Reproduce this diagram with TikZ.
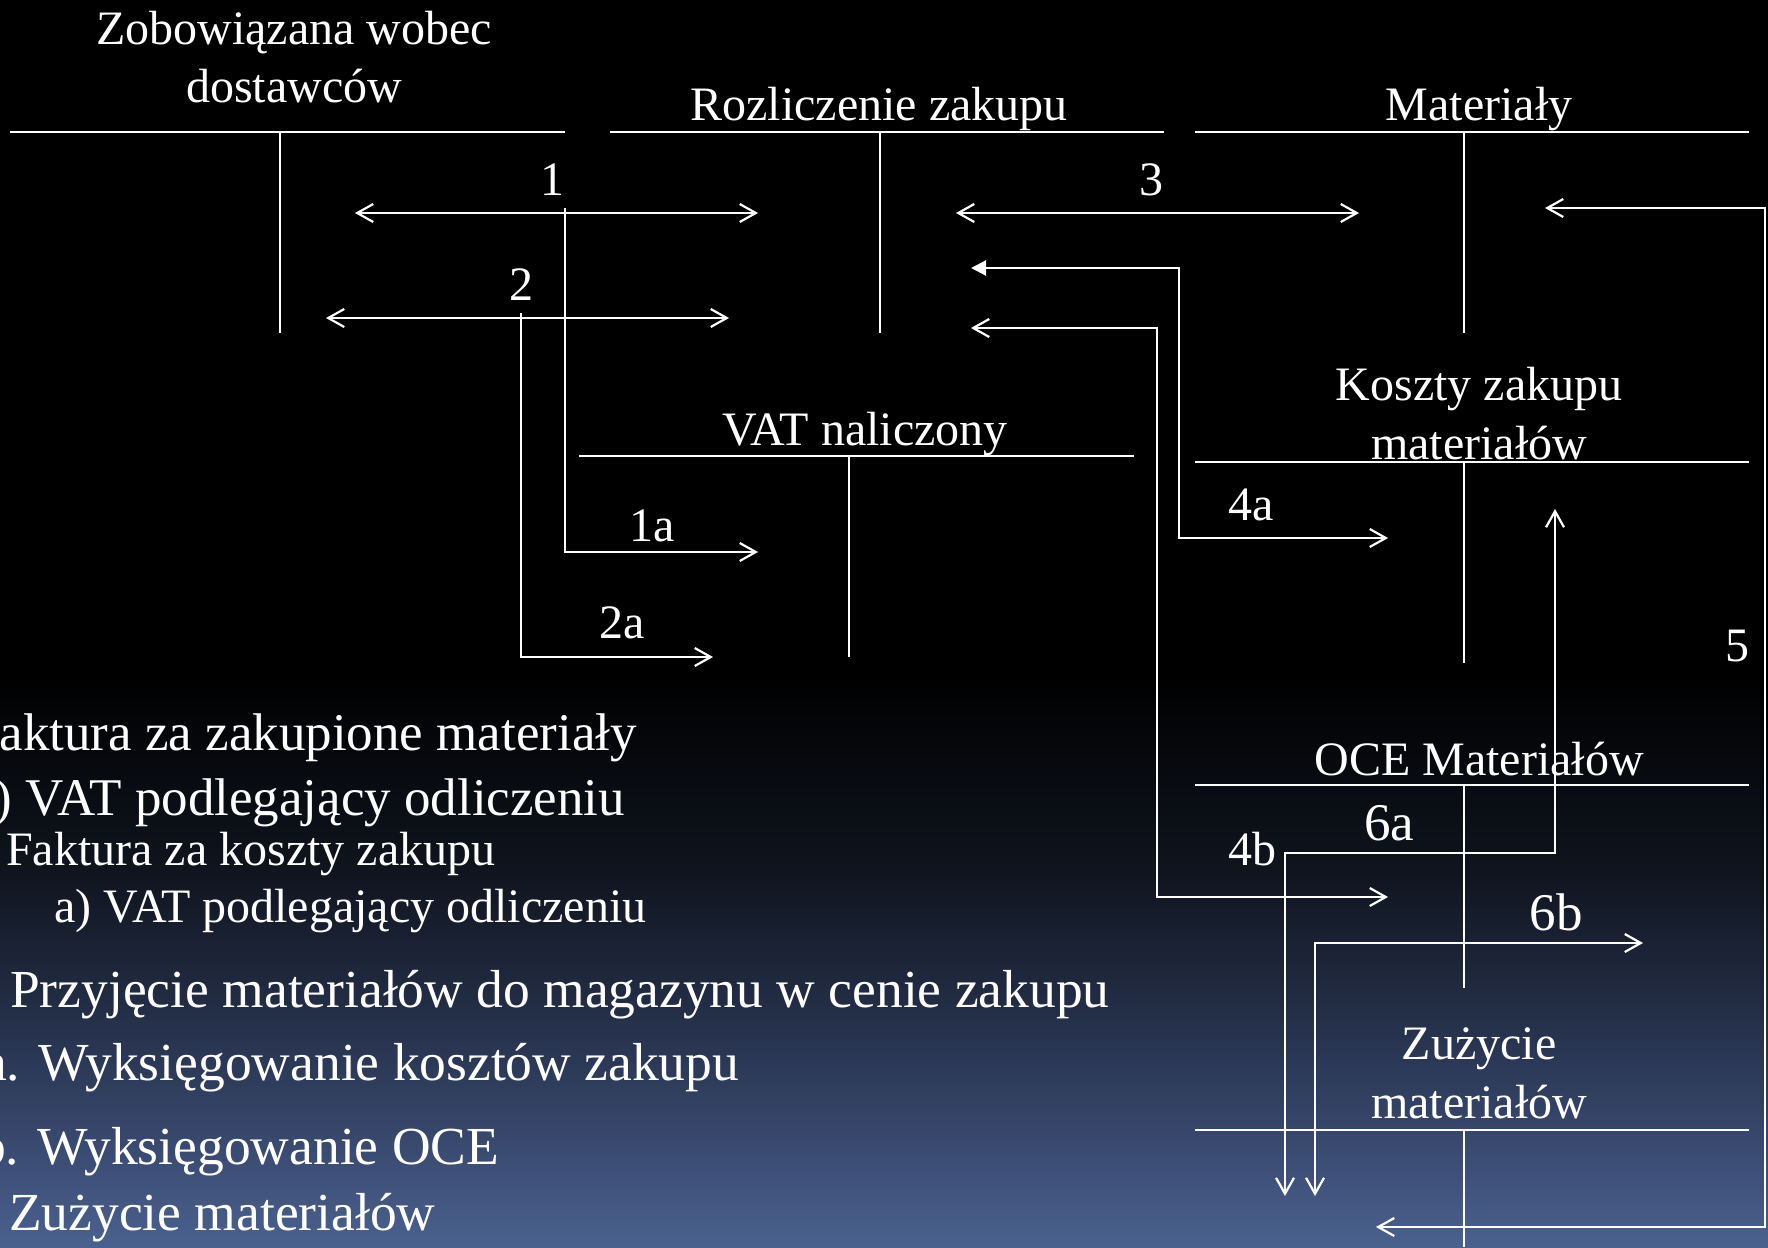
\documentclass[tikz,border=0pt]{standalone}
\usepackage{fontspec}
\setmainfont{Liberation Serif}
\usetikzlibrary{arrows.meta}

% slide background: black above, fading to slate blue at the foot
% (TikZ maps the 25bp--75bp band of a shading onto the filled path)
\pgfdeclareverticalshading{slidebg}{100bp}{rgb(0bp)=(0.29,0.38,0.56); rgb(25bp)=(0.29,0.38,0.56); rgb(30bp)=(0.21,0.27,0.41); rgb(35bp)=(0.13,0.17,0.26); rgb(40bp)=(0.06,0.08,0.12); rgb(48bp)=(0,0,0); rgb(100bp)=(0,0,0)}

\tikzset{
  acctitle/.style={text=white, anchor=base, inner sep=0pt, font=\fontsize{48}{58}\selectfont},
  flowlbl/.style={text=white, anchor=base, inner sep=0pt, font=\fontsize{48}{58}\selectfont},
  biglbl/.style={text=white, anchor=base, inner sep=0pt, font=\fontsize{53}{64}\selectfont},
  listtop/.style={text=white, anchor=base west, inner sep=0pt, font=\fontsize{53}{64}\selectfont},
  listbig/.style={text=white, anchor=base west, inner sep=0pt, font=\fontsize{53.5}{64}\selectfont},
  listsmall/.style={text=white, anchor=base west, inner sep=0pt, font=\fontsize{48}{58}\selectfont},
  tbar/.style={draw=white, line width=2.6pt},
  tstem/.style={draw=white, line width=2pt},
  barb/.tip={Straight Barb[length=16pt,width=18pt]},
  solidtip/.tip={Triangle[length=15pt,width=15pt]},
  flow/.style={draw=white, line width=2.2pt, -barb},
  twoway/.style={draw=white, line width=2.2pt, barb-barb},
}

\begin{document}
\begin{tikzpicture}[x=1pt,y=-1pt]
\useasboundingbox (0,0) rectangle (1768,1247);
\clip (0,0) rectangle (1768,1247);
\shade[shading=slidebg] (0,0) rectangle (1768,1247);

% ---- account titles ----
\node[acctitle] (zob1) at (294,45) {Zobowiązana wobec};
\node[acctitle] (zob2) at (294,102) {dostawców};
\node[acctitle] (roz) at (879,120) {Rozliczenie zakupu};
\node[acctitle] (mat) at (1479,120) {Materiały};
\node[acctitle] (vat) at (865,445) {VAT naliczony};
\node[acctitle] (ksz1) at (1479,400) {Koszty zakupu};
\node[acctitle] (ksz2) at (1479,459) {materiałów};
\node[acctitle] (oce) at (1479,775) {OCE Materiałów};
\node[acctitle] (zuz1) at (1479,1059) {Zużycie};
\node[acctitle] (zuz2) at (1479,1118) {materiałów};

% ---- T-accounts ----
\draw[tbar] (10,132) -- (565,132);   \draw[tstem] (280,132) -- (280,333);
\draw[tbar] (610,132) -- (1164,132); \draw[tstem] (880,132) -- (880,333);
\draw[tbar] (1195,132) -- (1749,132);\draw[tstem] (1464,132) -- (1464,333);
\draw[tbar] (579,456) -- (1134,456); \draw[tstem] (849,456) -- (849,657);
\draw[tbar] (1195,462) -- (1749,462);\draw[tstem] (1464,462) -- (1464,663);
\draw[tbar] (1195,785) -- (1749,785);\draw[tstem] (1464,785) -- (1464,988);
\draw[tbar] (1195,1130) -- (1749,1130);\draw[tstem] (1464,1130) -- (1464,1247);

% ---- connector end points ----
\coordinate (e1l) at (355,213);  \coordinate (e1r) at (758,213);
\coordinate (e1t) at (565,208);  \coordinate (e1b) at (565,552);
\coordinate (e1a) at (758,552);
\coordinate (e2l) at (326,318);  \coordinate (e2r) at (729,318);
\coordinate (e2t) at (521,313);  \coordinate (e2b) at (521,657);
\coordinate (e2a) at (713,657);
\coordinate (e3l) at (956,213);  \coordinate (e3r) at (1359,213);
\coordinate (e4at) at (971,268); \coordinate (e4ac) at (1179,268);
\coordinate (e4ad) at (1179,538);\coordinate (e4ae) at (1388,538);
\coordinate (e4bt) at (971,328); \coordinate (e4bc) at (1157,328);
\coordinate (e4bd) at (1157,897);\coordinate (e4be) at (1388,897);
\coordinate (e5t) at (1545,208); \coordinate (e5c) at (1765,208);
\coordinate (e5d) at (1765,1227);\coordinate (e5e) at (1376,1227);
\coordinate (e6at) at (1555,509);\coordinate (e6ac) at (1555,853);
\coordinate (e6ad) at (1285,853);\coordinate (e6ae) at (1285,1196);
\coordinate (e6bt) at (1643,943);\coordinate (e6bc) at (1315,943);
\coordinate (e6be) at (1315,1196);

% ---- flows ----
\draw[twoway] (e1l) -- (e1r);
\draw[flow] (e1t) -- (e1b) -- (e1a);
\draw[twoway] (e2l) -- (e2r);
\draw[flow] (e2t) -- (e2b) -- (e2a);
\draw[twoway] (e3l) -- (e3r);
\draw[draw=white, line width=2.2pt, solidtip-barb] (e4at) -- (e4ac) -- (e4ad) -- (e4ae);
\draw[twoway] (e4bt) -- (e4bc) -- (e4bd) -- (e4be);
\draw[twoway] (e5t) -- (e5c) -- (e5d) -- (e5e);
\draw[twoway] (e6at) -- (e6ac) -- (e6ad) -- (e6ae);
\draw[twoway] (e6bt) -- (e6bc) -- (e6be);

% ---- flow numbers ----
\node[flowlbl] (n1) at (552,195) {1};
\node[flowlbl] (n2) at (521,300) {2};
\node[flowlbl] (n3) at (1151,195) {3};
\node[flowlbl] (n1a) at (652,541) {1a};
\node[flowlbl] (n2a) at (622,638) {2a};
\node[flowlbl] (n4a) at (1251,520) {4a};
\node[flowlbl] (n4b) at (1252,865) {4b};
\node[flowlbl] (n5) at (1737,661) {5};
\node[biglbl] (n6a) at (1389,840) {6a};
\node[biglbl] (n6b) at (1556,930) {6b};

% ---- legend ----
\node[listtop] (l1) at (-30,750) {Faktura za zakupione materiały};
\node[listtop] (l2) at (-29,815) {a) VAT podlegający odliczeniu};
\node[listsmall] (l3) at (6,865) {Faktura za koszty zakupu};
\node[listsmall] (l4) at (54,922) {a) VAT podlegający odliczeniu};
\node[listbig] (l5) at (10,1007) {Przyjęcie materiałów do magazynu w cenie zakupu};
\node[listbig] (l6) at (-17,1080) {a. Wyksięgowanie kosztów zakupu};
\node[listbig] (l7) at (-21,1164) {b. Wyksięgowanie OCE};
\node[listbig] (l8) at (9,1230) {Zużycie materiałów};
\end{tikzpicture}
\end{document}
